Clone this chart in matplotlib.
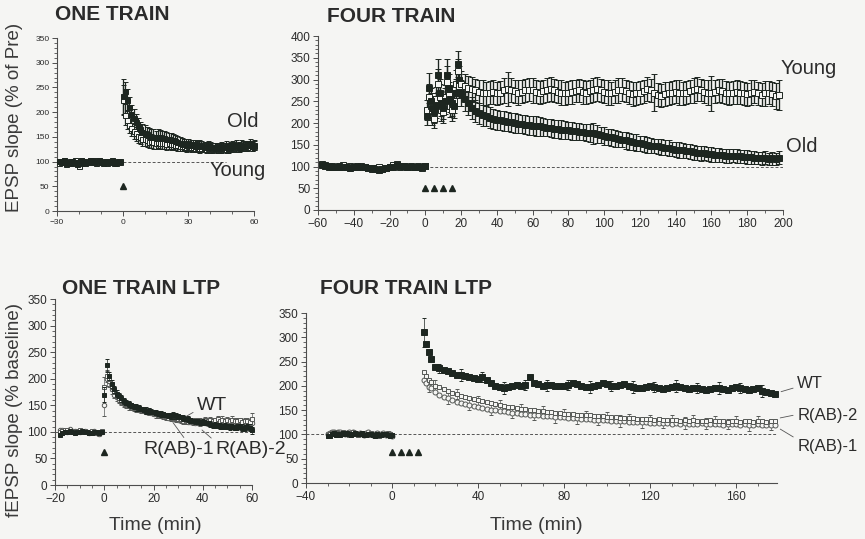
import numpy as np
import matplotlib
matplotlib.use("Agg")
import matplotlib.pyplot as plt
from matplotlib.ticker import MultipleLocator

plt.rcParams['font.family'] = ['Liberation Sans', 'DejaVu Sans']

W, H = 865, 539
PAPER = '#f5f5f3'
INK = '#1d2620'
OPEN_INK = '#555855'
AXIS = '#4d4d4d'
TXT = '#2b2b2b'
BASELINE = 100

# ---------------- ONE TRAIN (Old / Young) ----------------
one_pre_t = np.arange(-29, 0)
one_post_t = np.arange(0, 61)
one_old_pre = [101, 99, 103, 98, 100, 97, 102, 100, 96, 99,
               103, 101, 98, 100, 104, 102, 99, 101, 103, 100,
               98, 100, 102, 99, 101, 97, 100, 102, 99]
one_young_pre = [98, 102, 100, 96, 99, 101, 98, 103, 100, 92,
                 97, 100, 102, 99, 101, 100, 104, 98, 100, 102,
                 99, 101, 98, 100, 103, 100, 97, 99, 101]
one_pre_err = 4
one_old_post = [232, 242, 225, 210, 196, 188, 180, 172, 165, 160,
                158, 155, 152, 150, 150, 148, 150, 149, 147, 148,
                146, 145, 144, 143, 142, 140, 138, 136, 135, 134,
                135, 133, 134, 132, 131, 133, 132, 130, 129, 131,
                130, 128, 129, 127, 128, 130, 129, 131, 128, 130,
                132, 131, 133, 130, 134, 132, 131, 133, 135, 132, 134]
one_young_post = [225, 195, 185, 175, 168, 162, 158, 152, 150, 146,
                  145, 143, 140, 141, 139, 138, 140, 138, 137, 138,
                  136, 137, 135, 136, 134, 133, 132, 131, 132, 130,
                  131, 129, 130, 128, 129, 127, 128, 129, 126, 128,
                  127, 126, 128, 127, 125, 127, 128, 126, 127, 129,
                  128, 130, 129, 131, 130, 132, 131, 130, 133, 131, 132]
one_old_err = [35, 18, 22, 20, 19, 18, 17, 17, 16, 16,
               15, 15, 15, 16, 15, 14, 15, 15, 14, 14,
               14, 13, 13, 13, 12, 12, 12, 11, 11, 11,
               11, 10, 10, 11, 10, 10, 10, 9, 10, 10,
               10, 9, 9, 10, 9, 10, 9, 10, 9, 10,
               10, 9, 10, 10, 9, 10, 10, 9, 10, 10, 10]
one_young_err = [30, 22, 20, 18, 17, 16, 16, 15, 15, 14,
                 14, 14, 13, 14, 13, 13, 13, 12, 12, 12,
                 12, 12, 11, 11, 11, 11, 10, 10, 10, 10,
                 10, 10, 9, 9, 10, 9, 9, 9, 9, 9,
                 9, 8, 9, 9, 8, 9, 9, 8, 9, 9,
                 9, 8, 9, 9, 8, 9, 9, 9, 8, 9, 9]
one_stim = [0]

# ---------------- FOUR TRAIN (Old / Young) ----------------
four_pre_t = np.arange(-58, 1, 2)
four_tet_t = np.arange(1, 20)
four_post_t = np.arange(20, 199, 2)
four_old_pre = [104, 102, 101, 100, 99, 101, 100, 98, 97, 100,
                101, 99, 98, 97, 96, 94, 93, 95, 97, 99,
                100, 103, 102, 101, 100, 101, 99, 100, 98, 101]
four_young_pre = [106, 103, 100, 102, 98, 100, 103, 99, 101, 98,
                  99, 102, 100, 96, 95, 97, 98, 94, 96, 100,
                  104, 105, 100, 102, 99, 98, 100, 101, 97, 102]
four_pre_err = 4
four_old_tet = [215, 280, 250, 235, 225, 240, 310, 270, 245, 235,
                250, 310, 280, 255, 245, 240, 270, 335, 300]
four_young_tet = [230, 260, 240, 220, 210, 255, 290, 260, 230, 225,
                  260, 295, 265, 240, 230, 250, 290, 320, 285]
four_old_tet_err = [20, 35, 30, 28, 25, 28, 38, 32, 28, 26,
                    30, 38, 32, 30, 28, 28, 32, 30, 30]
four_young_tet_err = [22, 30, 28, 25, 22, 28, 35, 30, 26, 24,
                      28, 35, 30, 27, 25, 27, 32, 28, 28]
four_young_post = [290, 285, 280, 278, 275, 272, 270, 268, 270, 272,
                   268, 270, 275, 278, 276, 273, 270, 272, 275, 277,
                   275, 272, 270, 273, 276, 278, 275, 272, 270, 268,
                   270, 272, 274, 275, 272, 270, 273, 276, 278, 275,
                   272, 270, 268, 272, 275, 277, 274, 270, 266, 268,
                   270, 273, 278, 275, 270, 265, 263, 266, 268, 270,
                   272, 270, 268, 270, 273, 275, 278, 276, 272, 270,
                   268, 272, 275, 273, 270, 268, 270, 272, 270, 268,
                   266, 270, 272, 268, 265, 268, 270, 266, 262, 265]
four_old_post = [270, 255, 245, 235, 228, 222, 218, 215, 212, 210,
                 208, 206, 205, 203, 202, 200, 198, 197, 196, 195,
                 194, 193, 192, 190, 189, 188, 187, 186, 185, 184,
                 183, 182, 181, 180, 179, 178, 177, 176, 175, 172,
                 170, 168, 167, 165, 163, 162, 160, 158, 156, 155,
                 153, 152, 150, 148, 147, 146, 145, 143, 142, 140,
                 139, 138, 137, 136, 135, 133, 132, 130, 130, 128,
                 128, 127, 126, 126, 125, 124, 125, 124, 123, 122,
                 122, 121, 120, 120, 119, 120, 118, 119, 118, 120]
four_young_err = [30, 28, 27, 28, 26, 27, 28, 26, 27, 28,
                  27, 26, 28, 40, 27, 26, 28, 27, 26, 27,
                  28, 27, 26, 27, 28, 27, 26, 27, 28, 26,
                  27, 28, 26, 27, 28, 27, 26, 28, 27, 26,
                  27, 28, 27, 26, 28, 27, 26, 27, 28, 27,
                  26, 27, 28, 27, 42, 27, 26, 28, 27, 26,
                  27, 28, 27, 26, 27, 28, 27, 26, 27, 28,
                  40, 27, 26, 28, 27, 26, 27, 28, 27, 26,
                  27, 28, 27, 26, 27, 28, 27, 28, 30, 35]
four_old_err = [30, 28, 26, 25, 25, 24, 24, 23, 24, 23,
                23, 22, 23, 22, 22, 23, 22, 21, 22, 22,
                21, 22, 21, 21, 20, 21, 21, 20, 21, 20,
                20, 21, 20, 20, 19, 20, 21, 24, 20, 19,
                20, 19, 19, 20, 19, 18, 19, 19, 18, 19,
                18, 19, 18, 18, 17, 18, 18, 17, 18, 17,
                17, 18, 17, 16, 17, 17, 16, 17, 16, 16,
                17, 16, 16, 15, 16, 16, 15, 16, 15, 15,
                16, 15, 15, 14, 15, 15, 14, 15, 14, 15]
four_stim = [0, 5, 10, 15]

# ---------------- ONE TRAIN LTP (WT / R(AB)-1 / R(AB)-2) ----------------
ltp1_pre_t = np.arange(-18, 0)
ltp1_post_t = np.arange(0, 61)
ltp1_wt_pre = [95, 98, 100, 99, 101, 100, 98, 99, 100, 101,
               99, 100, 98, 97, 99, 100, 98, 100]
ltp1_r1_pre = [103, 104, 101, 100, 105, 102, 101, 100, 99, 102,
               101, 100, 98, 99, 101, 97, 96, 99]
ltp1_r2_pre = [100, 101, 104, 103, 100, 99, 102, 101, 103, 100,
               101, 99, 100, 102, 98, 97, 100, 101]
ltp1_pre_err = 3
ltp1_wt_post = [170, 225, 205, 190, 180, 172, 168, 163, 158, 155,
                152, 150, 148, 146, 145, 143, 142, 140, 139, 138,
                137, 136, 135, 134, 133, 132, 131, 130, 131, 130,
                129, 128, 126, 125, 124, 122, 121, 120, 119, 118,
                118, 117, 116, 115, 112, 113, 112, 111, 110, 111,
                110, 109, 110, 108, 109, 110, 108, 107, 110, 108, 103]
ltp1_r1_post = [150, 200, 195, 180, 170, 165, 160, 156, 152, 150,
                148, 147, 145, 143, 142, 141, 140, 138, 137, 136,
                134, 133, 132, 131, 130, 128, 127, 126, 125, 124,
                123, 122, 121, 120, 119, 119, 118, 117, 117, 116,
                118, 117, 116, 118, 117, 116, 117, 118, 116, 117,
                118, 117, 118, 116, 117, 118, 116, 117, 118, 115, 116]
ltp1_r2_post = [185, 205, 200, 185, 175, 168, 163, 158, 155, 152,
                150, 148, 146, 145, 143, 142, 140, 139, 138, 137,
                135, 134, 133, 132, 131, 130, 129, 128, 127, 126,
                125, 124, 124, 123, 122, 121, 122, 121, 120, 121,
                120, 122, 121, 123, 120, 122, 124, 121, 123, 120,
                122, 121, 123, 121, 120, 122, 119, 121, 120, 118, 125]
ltp1_wt_err = [14, 12, 8, 7, 6, 6, 5, 6, 5, 5,
               6, 5, 5, 6, 5, 4, 5, 6, 5, 5,
               4, 5, 5, 6, 5, 4, 5, 5, 6, 5,
               5, 4, 5, 5, 6, 5, 4, 5, 5, 5,
               6, 5, 4, 5, 5, 6, 5, 5, 4, 5,
               5, 6, 5, 4, 5, 5, 6, 5, 5, 6, 7]
ltp1_r1_err = [20, 14, 10, 8, 7, 7, 6, 6, 6, 5,
               6, 5, 6, 5, 5, 6, 5, 5, 6, 5,
               5, 6, 5, 5, 5, 6, 5, 5, 5, 6,
               5, 5, 6, 5, 5, 5, 6, 5, 5, 5,
               6, 5, 5, 6, 5, 5, 6, 5, 7, 5,
               6, 5, 6, 5, 6, 5, 6, 5, 6, 5, 6]
ltp1_r2_err = [18, 12, 9, 8, 7, 6, 6, 6, 5, 5,
               6, 5, 5, 5, 6, 5, 5, 5, 6, 5,
               5, 5, 6, 5, 5, 5, 6, 5, 5, 5,
               6, 5, 5, 5, 6, 5, 5, 5, 6, 5,
               5, 6, 5, 5, 6, 5, 6, 5, 6, 5,
               6, 5, 6, 5, 6, 5, 6, 5, 6, 5, 10]
ltp1_stim = [0]

# ---------------- FOUR TRAIN LTP (WT / R(AB)-1 / R(AB)-2) ----------------
ltp4_pre_t = np.arange(-30, 1)
ltp4_post_t = np.concatenate([[15, 16, 17, 18], np.arange(20, 179, 2)])
ltp4_wt_pre = [97, 96, 100, 102, 98, 101, 99, 103, 100, 102,
               101, 99, 100, 103, 101, 100, 102, 99, 98, 101,
               100, 99, 97, 100, 98, 99, 101, 100, 98, 97, 99]
ltp4_r1_pre = [100, 103, 105, 104, 101, 106, 104, 102, 100, 103,
               105, 101, 104, 102, 100, 103, 101, 99, 102, 104,
               100, 98, 101, 103, 99, 100, 102, 98, 100, 101, 97]
ltp4_r2_pre = [99, 101, 103, 100, 105, 103, 101, 104, 102, 100,
               99, 102, 104, 101, 99, 100, 103, 101, 100, 98,
               102, 100, 99, 101, 97, 100, 98, 99, 102, 100, 98]
ltp4_pre_err = 4
ltp4_wt_post = [310, 287, 270, 255,
                238, 236, 233, 230, 226, 222, 222, 220, 218, 216,
                214, 218, 212, 205, 200, 198, 196, 197, 200, 201,
                200, 202, 218, 206, 203, 200, 201, 202, 200, 199,
                200, 202, 205, 203, 200, 198, 197, 199, 202, 205,
                203, 200, 199, 201, 203, 200, 198, 196, 195, 198,
                200, 197, 195, 193, 195, 198, 200, 197, 195, 194,
                196, 195, 193, 192, 194, 196, 195, 193, 192, 195,
                197, 195, 193, 192, 194, 195, 190, 188, 186, 184]
ltp4_r2_post = [228, 220, 212, 208,
                200, 197, 193, 190, 186, 183, 180, 177, 175, 172,
                170, 168, 166, 164, 162, 160, 158, 157, 156, 154,
                153, 152, 151, 150, 149, 148, 147, 146, 145, 144,
                143, 142, 142, 141, 140, 139, 139, 138, 137, 137,
                136, 136, 135, 134, 134, 133, 133, 132, 132, 131,
                131, 130, 131, 130, 129, 130, 129, 128, 129, 128,
                129, 128, 127, 128, 129, 127, 128, 127, 126, 128,
                127, 126, 128, 127, 126, 127, 128, 126, 127, 128]
ltp4_r1_post = [212, 205, 198, 195,
                187, 182, 178, 174, 170, 167, 164, 162, 160, 158,
                156, 154, 152, 151, 150, 149, 148, 146, 145, 144,
                143, 142, 141, 140, 139, 138, 138, 137, 136, 135,
                135, 134, 133, 133, 132, 131, 131, 130, 130, 129,
                129, 128, 128, 127, 127, 126, 126, 125, 125, 125,
                124, 124, 123, 124, 123, 122, 123, 122, 123, 122,
                121, 122, 123, 122, 121, 122, 121, 120, 121, 122,
                121, 120, 121, 120, 119, 121, 120, 119, 120, 119]
ltp4_wt_err = [30, 9, 7, 6,
               8, 9, 10, 12, 10, 11, 12, 10, 11, 14,
               12, 11, 10, 12, 11, 10, 12, 14, 11, 10,
               12, 11, 10, 12, 11, 14, 12, 10, 11, 12,
               10, 11, 12, 14, 11, 10, 12, 11, 10, 12,
               11, 10, 12, 14, 11, 10, 12, 11, 10, 12,
               11, 10, 12, 14, 11, 10, 12, 11, 10, 12,
               11, 10, 12, 14, 11, 10, 12, 11, 10, 12,
               11, 10, 12, 14, 11, 10, 12, 11, 10, 8]
ltp4_r2_err = [18, 12, 10, 9,
               12, 11, 10, 12, 11, 10, 12, 11, 10, 11,
               10, 11, 12, 10, 11, 10, 11, 12, 10, 11,
               10, 11, 12, 10, 11, 10, 11, 12, 10, 11,
               10, 11, 12, 10, 11, 10, 11, 12, 10, 11,
               10, 11, 12, 10, 11, 10, 11, 12, 10, 11,
               10, 11, 12, 10, 11, 10, 11, 12, 10, 11,
               10, 11, 12, 10, 11, 10, 11, 12, 10, 11,
               10, 11, 12, 10, 11, 10, 11, 12, 10, 12]
ltp4_r1_err = [22, 12, 10, 9,
               11, 12, 10, 11, 12, 10, 11, 12, 10, 11,
               12, 10, 11, 12, 10, 11, 12, 10, 11, 12,
               10, 11, 12, 10, 11, 12, 10, 11, 12, 10,
               11, 12, 10, 11, 12, 10, 11, 12, 10, 11,
               12, 10, 11, 12, 10, 11, 12, 10, 11, 12,
               10, 11, 12, 10, 11, 12, 10, 11, 12, 10,
               11, 12, 10, 11, 12, 10, 11, 12, 10, 11,
               12, 10, 11, 12, 10, 11, 12, 10, 11, 10]
ltp4_stim = [0, 4, 8, 12]


# ---------------- figure ----------------
fig = plt.figure(figsize=(W / 100, H / 100), dpi=100, facecolor=PAPER)


def box(left, top, right, bottom):
    return [left / W, 1 - bottom / H, (right - left) / W, (bottom - top) / H]


def fxy(x, y):
    return x / W, 1 - y / H


def style(ax, xlim, ylim, xmaj, xmin, ymaj, ymin, fs):
    ax.set_facecolor('none')
    for s in ('top', 'right'):
        ax.spines[s].set_visible(False)
    for s in ('left', 'bottom'):
        ax.spines[s].set_color(AXIS)
        ax.spines[s].set_linewidth(0.8)
    ax.set_xlim(*xlim)
    ax.set_ylim(*ylim)
    ax.xaxis.set_major_locator(MultipleLocator(xmaj))
    ax.xaxis.set_minor_locator(MultipleLocator(xmin))
    ax.yaxis.set_major_locator(MultipleLocator(ymaj))
    ax.yaxis.set_minor_locator(MultipleLocator(ymin))
    ax.tick_params(which='major', length=3.5, width=0.7, colors=AXIS,
                   labelsize=fs, labelcolor=TXT, pad=2)
    ax.tick_params(which='minor', length=2, width=0.6, colors=AXIS)


def series(ax, t, v, e, filled, color, marker='s', ms=3.2, every=1,
           lw=0.6, cap=1.6, z=3):
    ax.errorbar(t, v, yerr=e, fmt=marker, ms=ms,
                mfc=color if filled else PAPER, mec=color, mew=0.7,
                ecolor=color, elinewidth=lw, capsize=cap, capthick=lw,
                errorevery=every, zorder=z, clip_on=False)


def stims(ax, times, y):
    ax.plot(times, [y] * len(times), ls='none', marker='^', ms=4.5,
            color=INK, zorder=4)


ax1 = fig.add_axes(box(57, 38, 254, 211))
ax2 = fig.add_axes(box(318, 36, 783, 210))
ax3 = fig.add_axes(box(55, 299, 252, 485))
ax4 = fig.add_axes(box(306, 313, 777, 483))

# --- ONE TRAIN ---
style(ax1, (-30, 60), (0, 350), 30, 10, 50, 10, 6)
ax1.hlines(BASELINE, 0, 47, colors='#555', linestyles=(0, (3, 2)), lw=0.7)
top1 = dict(ms=3.6, lw=0.9, cap=1.8)
series(ax1, one_pre_t, one_young_pre, one_pre_err, False, INK, **top1)
series(ax1, one_pre_t, one_old_pre, one_pre_err, True, INK, **top1)
series(ax1, one_post_t, one_young_post, one_young_err, False, INK, **top1)
series(ax1, one_post_t, one_old_post, one_old_err, True, INK, **top1)
stims(ax1, one_stim, 50)
ax1.text(54.7, 182, 'Old', fontsize=14.5, color=TXT, ha='center', va='center')
ax1.text(52.5, 81, 'Young', fontsize=14.5, color=TXT, ha='center', va='center')

# --- FOUR TRAIN ---
style(ax2, (-60, 200), (0, 400), 20, 10, 50, 10, 8.5)
ax2.hlines(BASELINE, 0, 200, colors='#555', linestyles=(0, (3, 2)), lw=0.7)
top2 = dict(ms=3.8, lw=0.95, cap=2.2)
series(ax2, four_pre_t, four_young_pre, four_pre_err, False, INK, **top2)
series(ax2, four_pre_t, four_old_pre, four_pre_err, True, INK, **top2)
series(ax2, four_tet_t, four_young_tet, four_young_tet_err, False, INK, **top2)
series(ax2, four_tet_t, four_old_tet, four_old_tet_err, True, INK, **top2)
series(ax2, four_post_t, four_young_post, four_young_err, False, INK, **top2)
series(ax2, four_post_t, four_old_post, four_old_err, True, INK, **top2)
stims(ax2, four_stim, 50)
ax2.text(214.6, 325, 'Young', fontsize=14.5, color=TXT, ha='center', va='center')
ax2.text(210.7, 145, 'Old', fontsize=14.5, color=TXT, ha='center', va='center')

# --- ONE TRAIN LTP ---
style(ax3, (-20, 60), (0, 350), 20, 5, 50, 10, 8.5)
ax3.hlines(BASELINE, -20, 60, colors='#555', linestyles=(0, (3, 2)), lw=0.7)
series(ax3, ltp1_pre_t, ltp1_r1_pre, ltp1_pre_err, False, OPEN_INK, 'o', ms=3.2, lw=0.5, z=2)
series(ax3, ltp1_pre_t, ltp1_r2_pre, ltp1_pre_err, False, OPEN_INK, 's', ms=3.0, lw=0.5, z=2)
series(ax3, ltp1_pre_t, ltp1_wt_pre, ltp1_pre_err, True, INK, 's', ms=2.8, lw=0.5)
series(ax3, ltp1_post_t, ltp1_r1_post, ltp1_r1_err, False, OPEN_INK, 'o', ms=3.2, lw=0.5, z=2)
series(ax3, ltp1_post_t, ltp1_r2_post, ltp1_r2_err, False, OPEN_INK, 's', ms=3.0, lw=0.5, z=2)
series(ax3, ltp1_post_t, ltp1_wt_post, ltp1_wt_err, True, INK, 's', ms=2.8, lw=0.5)
stims(ax3, ltp1_stim, 63)
lead = dict(arrowstyle='-', color='#555', lw=0.6, shrinkA=1, shrinkB=0)
ax3.annotate('WT', xy=(29.5, 119), xytext=(37.7, 150.5), fontsize=14, color=TXT,
             ha='left', va='center', annotation_clip=False,
             arrowprops=dict(lead, relpos=(0.0, 0.2)))
ax3.annotate('R(AB)-1', xy=(27.9, 117.6), xytext=(15.7, 66), fontsize=14, color=TXT,
             ha='left', va='center', annotation_clip=False,
             arrowprops=dict(lead, relpos=(0.62, 1.0)))
ax3.annotate('R(AB)-2', xy=(39.7, 103.5), xytext=(45.0, 66), fontsize=14, color=TXT,
             ha='left', va='center', annotation_clip=False,
             arrowprops=dict(lead, relpos=(0.0, 1.0)))

# --- FOUR TRAIN LTP ---
style(ax4, (-40, 179), (0, 350), 40, 10, 50, 10, 8.5)
ax4.hlines(BASELINE, -40, 179, colors='#555', linestyles=(0, (3, 2)), lw=0.7)
series(ax4, ltp4_pre_t, ltp4_r1_pre, ltp4_pre_err, False, OPEN_INK, 'o', ms=3.6, lw=0.5, z=2)
series(ax4, ltp4_pre_t, ltp4_r2_pre, ltp4_pre_err, False, OPEN_INK, 's', ms=3.4, lw=0.5, z=2)
series(ax4, ltp4_pre_t, ltp4_wt_pre, ltp4_pre_err, True, INK, 's', ms=3.4, lw=0.5)
series(ax4, ltp4_post_t, ltp4_r1_post, ltp4_r1_err, False, OPEN_INK, 'o', ms=3.6,
       every=(2, 5), lw=0.5, z=2)
series(ax4, ltp4_post_t, ltp4_r2_post, ltp4_r2_err, False, OPEN_INK, 's', ms=3.4,
       every=(4, 5), lw=0.5, z=2)
series(ax4, ltp4_post_t, ltp4_wt_post, ltp4_wt_err, True, INK, 's', ms=4.0,
       every=(0, 5), lw=0.5)
stims(ax4, ltp4_stim, 64)
ax4.annotate('WT', xy=(180.9, 188), xytext=(188.4, 204), fontsize=12, color=TXT,
             ha='left', va='center', annotation_clip=False,
             arrowprops=dict(lead, relpos=(0.0, 0.3)))
ax4.annotate('R(AB)-2', xy=(180.5, 134), xytext=(188.4, 138), fontsize=12, color=TXT,
             ha='left', va='center', annotation_clip=False,
             arrowprops=dict(lead, relpos=(0.0, 0.6)))
ax4.annotate('R(AB)-1', xy=(180.5, 111), xytext=(188.4, 76), fontsize=12, color=TXT,
             ha='left', va='center', annotation_clip=False,
             arrowprops=dict(lead, relpos=(0.0, 0.95)))

# --- panel titles and axis labels ---
for txt, (x, y) in [('ONE TRAIN', (55, 15)), ('FOUR TRAIN', (327, 17)),
                    ('ONE TRAIN LTP', (62, 288)), ('FOUR TRAIN LTP', (320, 289))]:
    fig.text(*fxy(x, y), txt, fontsize=15, fontweight='bold', color=TXT,
             ha='left', va='center')

fig.text(*fxy(15, 117), 'EPSP slope (% of Pre)', rotation=90, fontsize=13.5,
         color='#3a3a3a', ha='center', va='center')
fig.text(*fxy(15, 410), 'fEPSP slope (% baseline)', rotation=90, fontsize=13.5,
         color='#3a3a3a', ha='center', va='center')
fig.text(*fxy(155, 525), 'Time (min)', fontsize=14, color='#3a3a3a',
         ha='center', va='center')
fig.text(*fxy(536, 525), 'Time (min)', fontsize=14, color='#3a3a3a',
         ha='center', va='center')

fig.savefig('out.png', dpi=100, facecolor=PAPER)
